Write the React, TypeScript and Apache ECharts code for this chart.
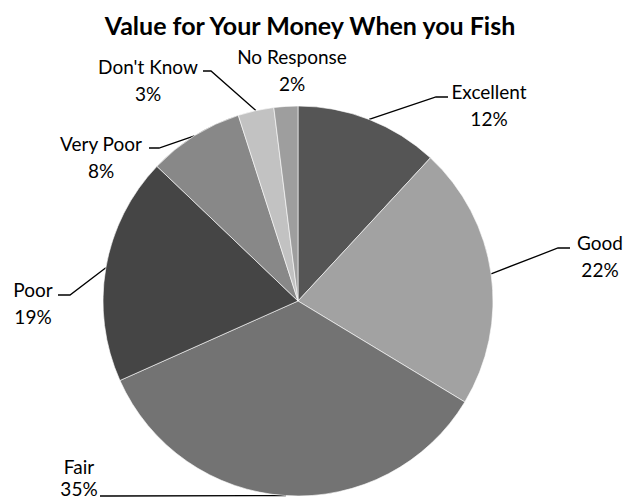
import React, { useEffect, useRef } from "react";
import * as echarts from "echarts";

const categories = ["Excellent", "Good", "Fair", "Poor", "Very Poor", "Don't Know", "No Response"];
const percents = [12, 22, 35, 19, 8, 3, 2];
const sliceColors = ["#555555", "#a2a2a2", "#737373", "#454545", "#888888", "#c2c2c2", "#9e9e9e"];
// label block centres and leader-line elbows (pixels)
const labelSpots = [
  { x: 489, y: 105, elbow: [436, 97], end: [448, 97] },
  { x: 600, y: 256, elbow: [558, 248], end: [570, 248] },
  { x: 79, y: 477, elbow: [110, 496], end: [100, 496] },
  { x: 33, y: 303, elbow: [70, 295], end: [58, 295] },
  { x: 101, y: 157, elbow: [159, 148], end: [149, 148] },
  { x: 148, y: 80, elbow: [211, 71], end: [203, 71] },
  { x: 292, y: 70, elbow: null, end: null },
];

export default function App() {
  const ref = useRef<HTMLDivElement>(null);
  useEffect(() => {
    document.body.style.margin = "0";
    const chart = echarts.init(ref.current!, undefined, { renderer: "svg" });
    chart.setOption({
      animation: false,
      backgroundColor: "#ffffff",
      title: {
        text: "Value for Your Money When you Fish",
        left: 305,
        textAlign: "center",
        top: 7,
        textStyle: { fontFamily: "Lato", fontWeight: "bold", fontSize: 25, color: "#000" },
      },
      series: [
        {
          type: "pie",
          center: [298, 301],
          radius: 195,
          startAngle: 90,
          clockwise: true,
          avoidLabelOverlap: false,
          itemStyle: { borderColor: "#ffffff", borderWidth: 0.6 },
          label: {
            show: true,
            position: "outside",
            formatter: "{b}\n{c}%",
            fontFamily: "Lato",
            fontSize: 19,
            lineHeight: 27,
            color: "#000",
            align: "center",
          },
          labelLine: { show: true, length: 10, length2: 10, lineStyle: { color: "#000", width: 1.3 } },
          labelLayout: (params: any) => {
            const s = labelSpots[params.dataIndex];
            const out: any = { x: s.x, y: s.y, align: "center", verticalAlign: "middle" };
            if (s.elbow && params.labelLinePoints) {
              out.labelLinePoints = [params.labelLinePoints[0], s.elbow, s.end];
            }
            return out;
          },
          data: categories.map((name, i) => ({
            name,
            value: percents[i],
            itemStyle: { color: sliceColors[i] },
            labelLine: { show: labelSpots[i].elbow !== null },
            label: name === "Fair" ? { lineHeight: 22 } : undefined,
          })),
        },
      ],
    });
    return () => chart.dispose();
  }, []);
  return <div ref={ref} style={{ width: 623, height: 500 }} />;
}
